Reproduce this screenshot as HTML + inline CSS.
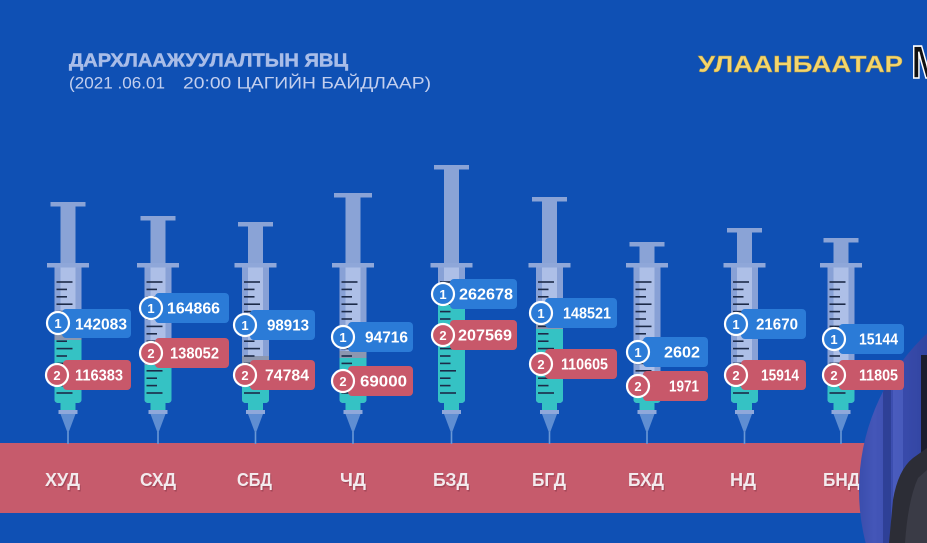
<!DOCTYPE html>
<html><head><meta charset="utf-8"><style>
html,body{margin:0;padding:0;background:#0f50b4;}
svg{display:block;}
text{font-family:"Liberation Sans","DejaVu Sans",sans-serif;}
</style></head><body>
<svg width="927" height="543" viewBox="0 0 927 543" xmlns="http://www.w3.org/2000/svg">
<defs>
<g id="ticks" stroke="#1c2a48" stroke-width="1.6">
<line x1="-11.5" y1="282" x2="4.5" y2="282"/>
<line x1="-11.5" y1="289.4" x2="-1" y2="289.4"/>
<line x1="-11.5" y1="296.8" x2="-1" y2="296.8"/>
<line x1="-11.5" y1="304.2" x2="4.5" y2="304.2"/>
<line x1="-11.5" y1="311.6" x2="-1" y2="311.6"/>
<line x1="-11.5" y1="319" x2="-1" y2="319"/>
<line x1="-11.5" y1="326.4" x2="4.5" y2="326.4"/>
<line x1="-11.5" y1="333.8" x2="-1" y2="333.8"/>
<line x1="-11.5" y1="341.2" x2="-1" y2="341.2"/>
<line x1="-11.5" y1="348.6" x2="4.5" y2="348.6"/>
<line x1="-11.5" y1="356" x2="-1" y2="356"/>
<line x1="-11.5" y1="363.4" x2="-1" y2="363.4"/>
<line x1="-11.5" y1="370.8" x2="4.5" y2="370.8"/>
<line x1="-11.5" y1="378.2" x2="-1" y2="378.2"/>
<line x1="-11.5" y1="385.6" x2="-1" y2="385.6"/>
<line x1="-11.5" y1="393" x2="4.5" y2="393"/>
</g>
<g id="tip">
<rect x="-7.5" y="402" width="15" height="9" fill="#35c2c4"/>
<rect x="-9.5" y="410" width="19" height="4" fill="#8fa8da"/>
<polygon points="-7.5,414 7.5,414 0,434" fill="#5f8ed2"/>
<line x1="0" y1="432" x2="0" y2="444" stroke="#6a98d6" stroke-width="1.6"/>
</g>
<path id="barrel" d="M-13.5 267 H13.5 V399 Q13.5 403 9.5 403 H-9.5 Q-13.5 403 -13.5 399 Z"/>
<rect id="flange" x="-21" y="263" width="42" height="4.5" fill="#8fa7d9"/>
<clipPath id="pic"><circle cx="1073" cy="490" r="214"/></clipPath>
<linearGradient id="curt" x1="0" y1="0" x2="1" y2="0">
<stop offset="0" stop-color="#3448a6"/>
<stop offset="0.3" stop-color="#4456b8"/>
<stop offset="0.6" stop-color="#3a4cad"/>
<stop offset="1" stop-color="#3144a0"/>
</linearGradient>
</defs>

<rect x="0" y="0" width="927" height="543" fill="#0f50b4"/>

<!-- header -->
<text x="69" y="66.5" font-size="18" font-weight="bold" fill="#a9bde8" stroke="#a9bde8" stroke-width="0.5" textLength="279" lengthAdjust="spacingAndGlyphs">ДАРХЛААЖУУЛАЛТЫН ЯВЦ</text>
<text x="69" y="88.5" font-size="17" fill="#c3cfee" textLength="96" lengthAdjust="spacingAndGlyphs">(2021 .06.01</text>
<text x="183" y="88.5" font-size="17" fill="#c3cfee" textLength="248" lengthAdjust="spacingAndGlyphs">20:00 ЦАГИЙН БАЙДЛААР)</text>
<text x="698" y="72" font-size="23" font-weight="bold" fill="#f4d56c" stroke="#b99a3c" stroke-width="0.4" textLength="205" lengthAdjust="spacingAndGlyphs">УЛААНБААТАР</text>
<text x="911" y="78" font-size="46" font-weight="bold" fill="#111" stroke="#fff" stroke-width="1.6" textLength="34" lengthAdjust="spacingAndGlyphs">M</text>

<!-- band -->
<rect x="0" y="443" width="927" height="70" fill="#c65b6c"/>
<g font-size="18" font-weight="bold">
<g fill="#7b2f42" opacity="0.45" transform="translate(1 1.5)">
<text x="45" y="486" textLength="35" lengthAdjust="spacingAndGlyphs">ХУД</text>
<text x="140" y="486" textLength="36" lengthAdjust="spacingAndGlyphs">СХД</text>
<text x="237" y="486" textLength="35" lengthAdjust="spacingAndGlyphs">СБД</text>
<text x="340" y="486" textLength="26" lengthAdjust="spacingAndGlyphs">ЧД</text>
<text x="433" y="486" textLength="36" lengthAdjust="spacingAndGlyphs">БЗД</text>
<text x="532" y="486" textLength="34" lengthAdjust="spacingAndGlyphs">БГД</text>
<text x="628" y="486" textLength="36" lengthAdjust="spacingAndGlyphs">БХД</text>
<text x="730" y="486" textLength="26" lengthAdjust="spacingAndGlyphs">НД</text>
<text x="823" y="486" textLength="37" lengthAdjust="spacingAndGlyphs">БНД</text>
</g>
<g fill="#f3eaed">
<text x="45" y="486" textLength="35" lengthAdjust="spacingAndGlyphs">ХУД</text>
<text x="140" y="486" textLength="36" lengthAdjust="spacingAndGlyphs">СХД</text>
<text x="237" y="486" textLength="35" lengthAdjust="spacingAndGlyphs">СБД</text>
<text x="340" y="486" textLength="26" lengthAdjust="spacingAndGlyphs">ЧД</text>
<text x="433" y="486" textLength="36" lengthAdjust="spacingAndGlyphs">БЗД</text>
<text x="532" y="486" textLength="34" lengthAdjust="spacingAndGlyphs">БГД</text>
<text x="628" y="486" textLength="36" lengthAdjust="spacingAndGlyphs">БХД</text>
<text x="730" y="486" textLength="26" lengthAdjust="spacingAndGlyphs">НД</text>
<text x="823" y="486" textLength="37" lengthAdjust="spacingAndGlyphs">БНД</text>
</g>
</g>

<!-- syringes -->
<g transform="translate(68 0)">
<rect x="-7.5" y="206" width="15" height="57" fill="#8aa3d6"/>
<rect x="-17.5" y="202" width="35" height="4.5" fill="#8aa3d6"/>
<use href="#barrel" fill="#88a1d6"/>
<rect x="-7.5" y="267" width="15" height="66" fill="#adbfe7"/>
<rect x="-13.5" y="333" width="27" height="7" fill="#8c97b0"/>
<path d="M-13.5 340 H13.5 V399 Q13.5 403 9.5 403 H-9.5 Q-13.5 403 -13.5 399 Z" fill="#35c2c4"/>
<use href="#ticks"/><use href="#flange"/><use href="#tip"/>
</g>
<g transform="translate(158 0)">
<rect x="-7.5" y="220" width="15" height="43" fill="#8aa3d6"/>
<rect x="-17.5" y="216" width="35" height="4.5" fill="#8aa3d6"/>
<use href="#barrel" fill="#88a1d6"/>
<rect x="-7.5" y="267" width="15" height="91" fill="#adbfe7"/>
<rect x="-13.5" y="358" width="27" height="7" fill="#8c97b0"/>
<path d="M-13.5 365 H13.5 V399 Q13.5 403 9.5 403 H-9.5 Q-13.5 403 -13.5 399 Z" fill="#35c2c4"/>
<use href="#ticks"/><use href="#flange"/><use href="#tip"/>
</g>
<g transform="translate(255.5 0)">
<rect x="-7.5" y="226" width="15" height="37" fill="#8aa3d6"/>
<rect x="-17.5" y="222" width="35" height="4.5" fill="#8aa3d6"/>
<use href="#barrel" fill="#88a1d6"/>
<rect x="-7.5" y="267" width="15" height="89" fill="#adbfe7"/>
<rect x="-13.5" y="356" width="27" height="7" fill="#8c97b0"/>
<path d="M-13.5 363 H13.5 V399 Q13.5 403 9.5 403 H-9.5 Q-13.5 403 -13.5 399 Z" fill="#35c2c4"/>
<use href="#ticks"/><use href="#flange"/><use href="#tip"/>
</g>
<g transform="translate(353 0)">
<rect x="-7.5" y="197" width="15" height="66" fill="#8aa3d6"/>
<rect x="-19" y="193" width="38" height="4.5" fill="#8aa3d6"/>
<use href="#barrel" fill="#88a1d6"/>
<rect x="-7.5" y="267" width="15" height="84" fill="#adbfe7"/>
<rect x="-13.5" y="351" width="27" height="7" fill="#8c97b0"/>
<path d="M-13.5 358 H13.5 V399 Q13.5 403 9.5 403 H-9.5 Q-13.5 403 -13.5 399 Z" fill="#35c2c4"/>
<use href="#ticks"/><use href="#flange"/><use href="#tip"/>
</g>
<g transform="translate(451.5 0)">
<rect x="-7.5" y="169" width="15" height="94" fill="#8aa3d6"/>
<rect x="-17.5" y="165" width="35" height="4.5" fill="#8aa3d6"/>
<use href="#barrel" fill="#88a1d6"/>
<rect x="-7.5" y="267" width="15" height="26" fill="#adbfe7"/>
<rect x="-13.5" y="293" width="27" height="7" fill="#8c97b0"/>
<path d="M-13.5 300 H13.5 V399 Q13.5 403 9.5 403 H-9.5 Q-13.5 403 -13.5 399 Z" fill="#35c2c4"/>
<use href="#ticks"/><use href="#flange"/><use href="#tip"/>
</g>
<g transform="translate(549.5 0)">
<rect x="-7.5" y="201" width="15" height="62" fill="#8aa3d6"/>
<rect x="-17.5" y="197" width="35" height="4.5" fill="#8aa3d6"/>
<use href="#barrel" fill="#88a1d6"/>
<rect x="-7.5" y="267" width="15" height="55" fill="#adbfe7"/>
<rect x="-13.5" y="322" width="27" height="7" fill="#8c97b0"/>
<path d="M-13.5 329 H13.5 V399 Q13.5 403 9.5 403 H-9.5 Q-13.5 403 -13.5 399 Z" fill="#35c2c4"/>
<use href="#ticks"/><use href="#flange"/><use href="#tip"/>
</g>
<g transform="translate(647 0)">
<rect x="-7.5" y="246" width="15" height="17" fill="#8aa3d6"/>
<rect x="-17.5" y="242" width="35" height="4.5" fill="#8aa3d6"/>
<use href="#barrel" fill="#88a1d6"/>
<rect x="-7.5" y="267" width="15" height="118" fill="#adbfe7"/>
<rect x="-13.5" y="385" width="27" height="7" fill="#8c97b0"/>
<path d="M-13.5 392 H13.5 V399 Q13.5 403 9.5 403 H-9.5 Q-13.5 403 -13.5 399 Z" fill="#35c2c4"/>
<use href="#ticks"/><use href="#flange"/><use href="#tip"/>
</g>
<g transform="translate(744.5 0)">
<rect x="-7.5" y="232" width="15" height="31" fill="#8aa3d6"/>
<rect x="-17.5" y="228" width="35" height="4.5" fill="#8aa3d6"/>
<use href="#barrel" fill="#88a1d6"/>
<rect x="-7.5" y="267" width="15" height="108" fill="#adbfe7"/>
<rect x="-13.5" y="375" width="27" height="7" fill="#8c97b0"/>
<path d="M-13.5 382 H13.5 V399 Q13.5 403 9.5 403 H-9.5 Q-13.5 403 -13.5 399 Z" fill="#35c2c4"/>
<use href="#ticks"/><use href="#flange"/><use href="#tip"/>
</g>
<g transform="translate(841 0)">
<rect x="-7.5" y="242" width="15" height="21" fill="#8aa3d6"/>
<rect x="-17.5" y="238" width="35" height="4.5" fill="#8aa3d6"/>
<use href="#barrel" fill="#88a1d6"/>
<rect x="-7.5" y="267" width="15" height="108" fill="#adbfe7"/>
<rect x="-13.5" y="375" width="27" height="7" fill="#8c97b0"/>
<path d="M-13.5 382 H13.5 V399 Q13.5 403 9.5 403 H-9.5 Q-13.5 403 -13.5 399 Z" fill="#35c2c4"/>
<use href="#ticks"/><use href="#flange"/><use href="#tip"/>
</g>

<!-- picture-in-picture circle -->
<g clip-path="url(#pic)">
<rect x="850" y="270" width="80" height="280" fill="url(#curt)"/>
<rect x="883" y="380" width="8" height="170" fill="#2b3c90" opacity="0.8"/>
<rect x="893" y="370" width="10" height="180" fill="#5365c6" opacity="0.6"/>
<rect x="921" y="355" width="6" height="120" fill="#1b1d2e"/>
<path d="M927 448 L913 458 Q898 470 893 500 L889 543 L927 543 Z" fill="#2c2d36"/>
<path d="M927 470 L918 478 Q908 500 905 543 L927 543 Z" fill="#3a3b46"/>
</g>

<!-- labels -->
<g font-weight="bold" fill="#fff">
<rect x="62" y="309" width="69" height="29" rx="4" fill="#2b7bd7"/>
<circle cx="58" cy="323" r="11" fill="#2b7bd7" stroke="#fff" stroke-width="2.2"/>
<text x="58" y="328" font-size="13" text-anchor="middle">1</text>
<text x="75" y="329.5" font-size="16" textLength="52" lengthAdjust="spacingAndGlyphs">142083</text>
<rect x="63" y="360" width="68" height="30" rx="4" fill="#c8586a"/>
<circle cx="57" cy="375" r="11" fill="#c8586a" stroke="#fff" stroke-width="2.2"/>
<text x="57" y="380" font-size="13" text-anchor="middle">2</text>
<text x="75" y="380.5" font-size="16" textLength="48" lengthAdjust="spacingAndGlyphs">116383</text>

<rect x="155" y="293" width="74" height="30" rx="4" fill="#2b7bd7"/>
<circle cx="151" cy="308" r="11" fill="#2b7bd7" stroke="#fff" stroke-width="2.2"/>
<text x="151" y="313" font-size="13" text-anchor="middle">1</text>
<text x="167" y="313.5" font-size="16" textLength="53" lengthAdjust="spacingAndGlyphs">164866</text>
<rect x="155" y="338" width="74" height="30" rx="4" fill="#c8586a"/>
<circle cx="151" cy="353" r="11" fill="#c8586a" stroke="#fff" stroke-width="2.2"/>
<text x="151" y="358" font-size="13" text-anchor="middle">2</text>
<text x="170" y="358.5" font-size="16" textLength="49" lengthAdjust="spacingAndGlyphs">138052</text>

<rect x="250" y="310" width="65" height="30" rx="4" fill="#2b7bd7"/>
<circle cx="245" cy="325" r="11" fill="#2b7bd7" stroke="#fff" stroke-width="2.2"/>
<text x="245" y="330" font-size="13" text-anchor="middle">1</text>
<text x="267" y="330.5" font-size="16" textLength="42" lengthAdjust="spacingAndGlyphs">98913</text>
<rect x="250" y="360" width="65" height="30" rx="4" fill="#c8586a"/>
<circle cx="245" cy="375" r="11" fill="#c8586a" stroke="#fff" stroke-width="2.2"/>
<text x="245" y="380" font-size="13" text-anchor="middle">2</text>
<text x="265" y="380.5" font-size="16" textLength="44" lengthAdjust="spacingAndGlyphs">74784</text>

<rect x="348" y="322" width="65" height="30" rx="4" fill="#2b7bd7"/>
<circle cx="343" cy="337" r="11" fill="#2b7bd7" stroke="#fff" stroke-width="2.2"/>
<text x="343" y="342" font-size="13" text-anchor="middle">1</text>
<text x="365" y="342.5" font-size="16" textLength="43" lengthAdjust="spacingAndGlyphs">94716</text>
<rect x="348" y="366" width="65" height="30" rx="4" fill="#c8586a"/>
<circle cx="343" cy="381" r="11" fill="#c8586a" stroke="#fff" stroke-width="2.2"/>
<text x="343" y="386" font-size="13" text-anchor="middle">2</text>
<text x="360" y="386.5" font-size="16" textLength="47" lengthAdjust="spacingAndGlyphs">69000</text>

<rect x="450" y="279" width="67" height="30" rx="4" fill="#2b7bd7"/>
<circle cx="443" cy="294" r="11" fill="#2b7bd7" stroke="#fff" stroke-width="2.2"/>
<text x="443" y="299" font-size="13" text-anchor="middle">1</text>
<text x="459" y="299.5" font-size="16" textLength="54" lengthAdjust="spacingAndGlyphs">262678</text>
<rect x="450" y="320" width="67" height="30" rx="4" fill="#c8586a"/>
<circle cx="443" cy="335" r="11" fill="#c8586a" stroke="#fff" stroke-width="2.2"/>
<text x="443" y="340" font-size="13" text-anchor="middle">2</text>
<text x="458" y="340.5" font-size="16" textLength="54" lengthAdjust="spacingAndGlyphs">207569</text>

<rect x="545" y="298" width="72" height="30" rx="4" fill="#2b7bd7"/>
<circle cx="541" cy="313" r="11" fill="#2b7bd7" stroke="#fff" stroke-width="2.2"/>
<text x="541" y="318" font-size="13" text-anchor="middle">1</text>
<text x="563" y="318.5" font-size="16" textLength="48" lengthAdjust="spacingAndGlyphs">148521</text>
<rect x="545" y="349" width="72" height="30" rx="4" fill="#c8586a"/>
<circle cx="541" cy="364" r="11" fill="#c8586a" stroke="#fff" stroke-width="2.2"/>
<text x="541" y="369" font-size="13" text-anchor="middle">2</text>
<text x="561" y="369.5" font-size="16" textLength="47" lengthAdjust="spacingAndGlyphs">110605</text>

<rect x="643" y="337" width="65" height="30" rx="4" fill="#2b7bd7"/>
<circle cx="638" cy="352" r="11" fill="#2b7bd7" stroke="#fff" stroke-width="2.2"/>
<text x="638" y="357" font-size="13" text-anchor="middle">1</text>
<text x="664" y="357.5" font-size="16" textLength="36" lengthAdjust="spacingAndGlyphs">2602</text>
<rect x="643" y="371" width="65" height="30" rx="4" fill="#c8586a"/>
<circle cx="638" cy="386" r="11" fill="#c8586a" stroke="#fff" stroke-width="2.2"/>
<text x="638" y="391" font-size="13" text-anchor="middle">2</text>
<text x="669" y="391.5" font-size="16" textLength="30" lengthAdjust="spacingAndGlyphs">1971</text>

<rect x="741" y="309" width="65" height="30" rx="4" fill="#2b7bd7"/>
<circle cx="736" cy="324" r="11" fill="#2b7bd7" stroke="#fff" stroke-width="2.2"/>
<text x="736" y="329" font-size="13" text-anchor="middle">1</text>
<text x="756" y="329.5" font-size="16" textLength="42" lengthAdjust="spacingAndGlyphs">21670</text>
<rect x="741" y="360" width="65" height="30" rx="4" fill="#c8586a"/>
<circle cx="736" cy="375" r="11" fill="#c8586a" stroke="#fff" stroke-width="2.2"/>
<text x="736" y="380" font-size="13" text-anchor="middle">2</text>
<text x="761" y="380.5" font-size="16" textLength="38" lengthAdjust="spacingAndGlyphs">15914</text>

<rect x="839" y="324" width="65" height="30" rx="4" fill="#2b7bd7"/>
<circle cx="834" cy="339" r="11" fill="#2b7bd7" stroke="#fff" stroke-width="2.2"/>
<text x="834" y="344" font-size="13" text-anchor="middle">1</text>
<text x="859" y="344.5" font-size="16" textLength="39" lengthAdjust="spacingAndGlyphs">15144</text>
<rect x="839" y="360" width="65" height="30" rx="4" fill="#c8586a"/>
<circle cx="834" cy="375" r="11" fill="#c8586a" stroke="#fff" stroke-width="2.2"/>
<text x="834" y="380" font-size="13" text-anchor="middle">2</text>
<text x="859" y="380.5" font-size="16" textLength="39" lengthAdjust="spacingAndGlyphs">11805</text>
</g>
</svg>
</body></html>
